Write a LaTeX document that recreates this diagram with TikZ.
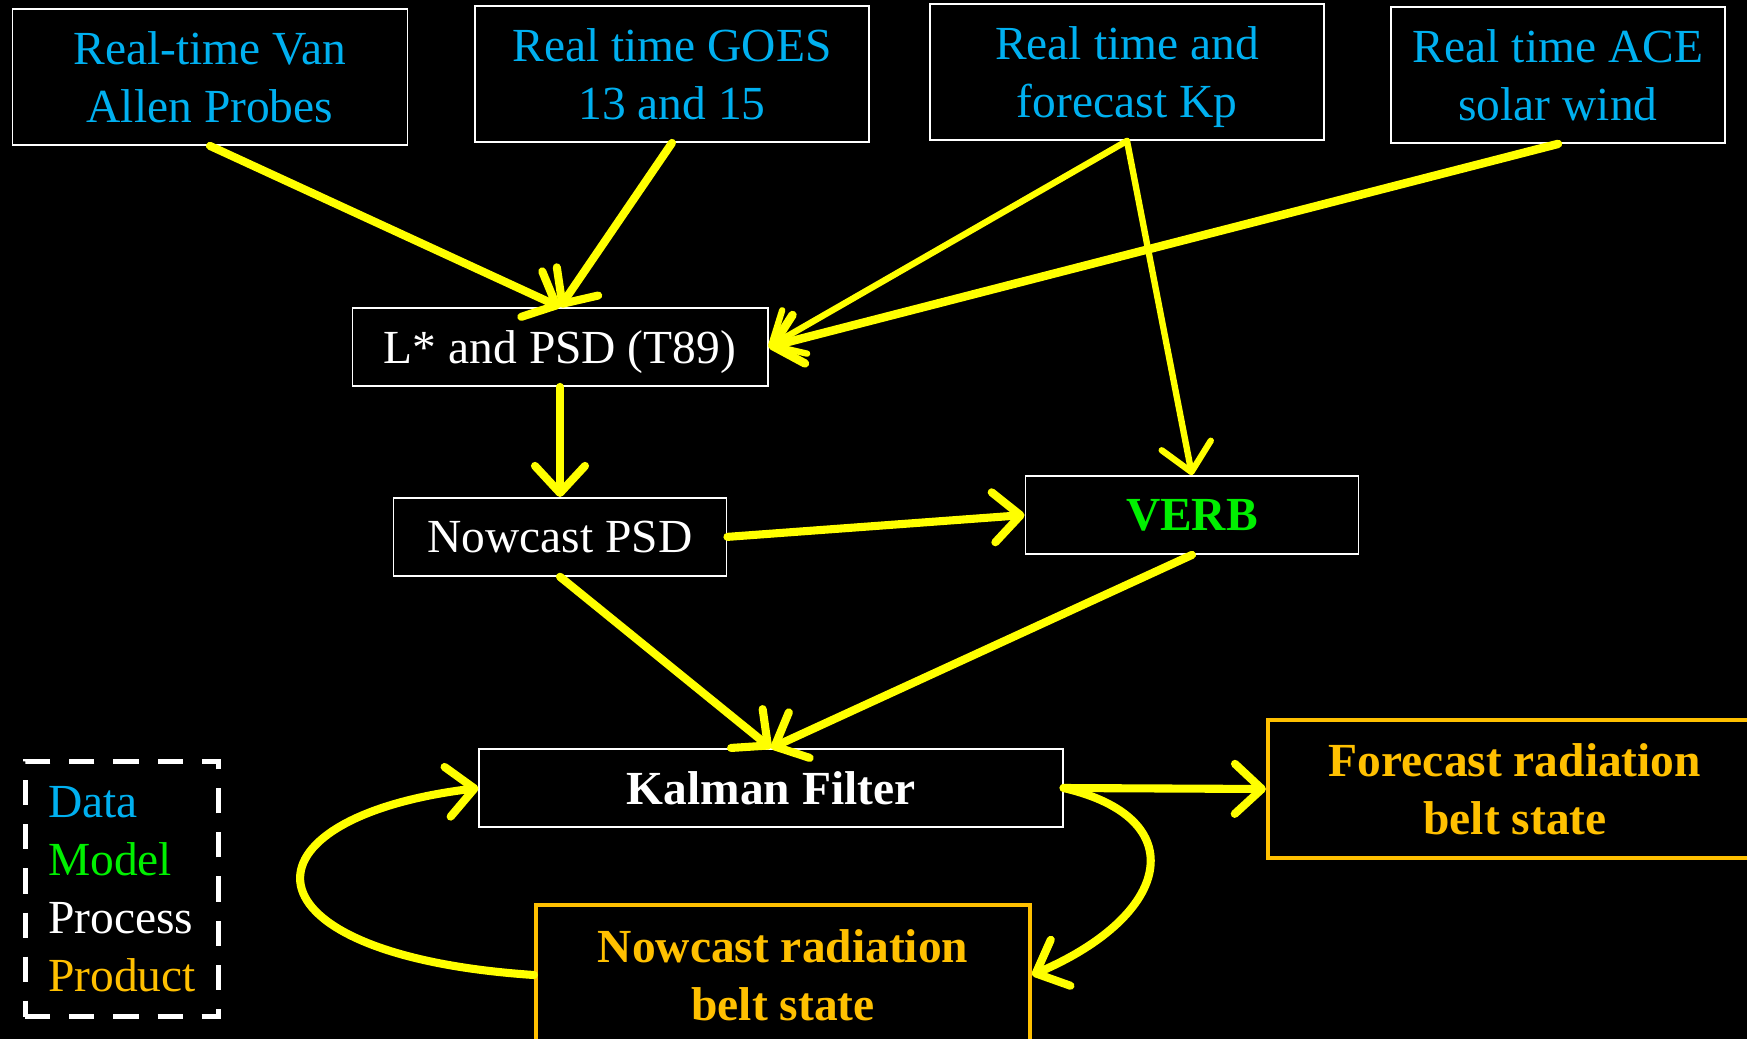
\documentclass[tikz,border=0pt]{standalone}
\usepackage{fontspec}
\setmainfont{Liberation Serif}
\usepackage{tikz}
\usetikzlibrary{arrows.meta, positioning}
\usepackage{xcolor}
\definecolor{datablue}{HTML}{00B0F0}
\definecolor{modelgreen}{HTML}{00F000}
\definecolor{prodorange}{HTML}{FFC000}
\definecolor{arrowyellow}{HTML}{FFFF00}

\begin{document}
\begin{tikzpicture}[
x=0.01cm, y=-0.01cm,
font=\fontsize{13.5}{16.5}\selectfont,
databox/.style={draw=white, line width=0.5pt, rectangle,
text=datablue, align=center, minimum height=1.36cm},
procbox/.style={draw=white, line width=0.5pt, rectangle,
text=white, align=center, minimum height=0.78cm},
prodbox/.style={draw=prodorange, line width=1.1pt, rectangle,
text=prodorange, font=\fontsize{13.5}{16.5}\selectfont\bfseries,
align=center, minimum height=1.38cm},
arrow/.style={draw=arrowyellow, line width=2.3pt, line cap=round,
-{Straight Barb[round, length=0.27cm, width=0.5cm]}}
]

\fill[black] (0,0) rectangle (1747,1039);
\useasboundingbox (0,0) rectangle (1747,1039);

\node[databox, minimum width=3.95cm] (vap) at (210,77) {Real-time Van\\Allen Probes};
\node[databox, minimum width=3.94cm] (goes) at (672,74) {Real time GOES\\13 and 15};
\node[databox, minimum width=3.94cm] (kp) at (1127,72) {Real time and\\forecast K\smash{p}};
\node[databox, minimum width=3.34cm] (ace) at (1558,75) {Real time ACE\\solar wind};

\node[procbox, minimum width=4.15cm] (lstar) at (560,347) {L* and PSD \smash{(T89)}};
\node[procbox, minimum width=3.33cm, below=1.1cm of lstar] (npsd) {Nowcast PSD};
\node[procbox, minimum width=3.33cm, text=modelgreen, font=\fontsize{13.5}{16.5}\selectfont\bfseries] (verb) at (1192,515) {VERB};
\node[procbox, minimum width=5.83cm, font=\fontsize{13.5}{16.5}\selectfont\bfseries] (kalman) at (771,788) {Kalman Filter};

\node[prodbox, minimum width=4.94cm] (fcst) at (1515,789) {Forecast radiation\\belt state};
\node[prodbox, minimum width=4.94cm, minimum height=1.40cm] (ncst) at (783,975) {Nowcast radiation\\belt state};

\node[draw=white, line width=0.055cm, dash pattern=on 0.25cm off 0.19cm,
align=left, inner xsep=0.22cm, minimum width=1.93cm, minimum height=2.55cm] (legend) at (122,889)
{\textcolor{datablue}{Data}\\\textcolor{modelgreen}{Model}\\\textcolor{white}{Process}\\\textcolor{prodorange}{Product}};

\draw[arrow] (vap.south) -- (lstar.north);
\draw[arrow] (goes.south) -- (lstar.north);
\draw[arrow, line width=1.8pt] (kp.south) -- (lstar.east);
\draw[arrow, line width=2.4pt] (ace.south) -- (lstar.east);
\draw[arrow, line width=1.8pt] (kp.south) -- (verb.north);
\draw[arrow] (lstar.south) -- (npsd.north);
\draw[arrow] (npsd.east) -- (verb.west);
\draw[arrow] (npsd.south) -- (kalman.north);
\draw[arrow] (verb.south) -- (kalman.north);
\draw[arrow] (kalman.east) -- (fcst.west);
\draw[arrow] (kalman.east) .. controls +(130,30) and +(140,-60) .. (ncst.east);
\draw[arrow] (ncst.west) .. controls +(-300,-20) and +(-245,30) .. (kalman.west);

\end{tikzpicture}
\end{document}
